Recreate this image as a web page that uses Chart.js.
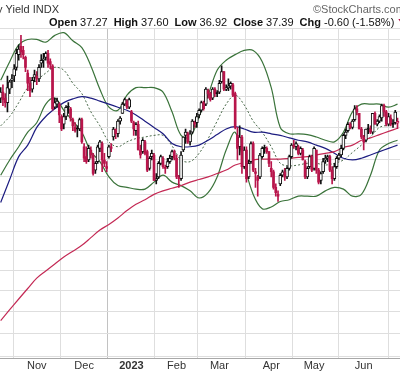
<!DOCTYPE html>
<html>
<head>
<meta charset="utf-8">
<title>10-Year Treasury Yield INDX</title>
<script src="https://cdn.jsdelivr.net/npm/chart.js@4.4.0/dist/chart.umd.min.js"></script>
<style>
  html, body { margin: 0; padding: 0; background: #fff; }
  canvas { display: block; }
</style>
</head>
<body>
<canvas id="tnx" width="400" height="376"></canvas>
<script>
// trading days counted from Nov 1 2022 (= 0); first candle is Oct 10 2022
var firstDay = -16;

var opens = [
  38.9, 39.3, 38.9, 38.6, 39.5, 40.1, 40.4, 41.0, 41.9, 42.5, 42.2, 41.7, 40.6, 39.9, 39.5, 40.3,
  40.4, 40.2, 41.3, 41.5, 41.7, 42.0, 41.4, 41.1, 38.3, 38.5, 38.5, 37.7, 37.2, 37.7, 38.3, 38.2, 37.5, 37.0, 36.9, 36.9, 37.5,
  35.8, 35.2, 35.0, 35.6, 35.3, 34.4, 34.9, 35.7, 36.0, 35.0, 34.6, 35.2, 35.8, 36.4, 36.9, 36.6, 37.4, 37.9, 38.5, 38.7, 38.3,
  38.0, 37.3, 36.8, 37.2, 35.6, 35.5, 36.1, 35.5, 34.5, 35.2, 35.3, 33.8, 34.0, 34.8, 35.1, 34.5, 34.6, 34.9, 35.2, 35.5,
  35.1, 33.9, 33.9, 35.6, 36.5, 36.6, 36.1, 36.7, 37.3, 37.3, 37.8, 38.1, 38.6, 38.5, 39.4, 39.2, 38.9, 39.5, 39.2,
  39.3, 40.0, 40.7, 39.5, 39.6, 39.7, 39.8, 39.2, 36.5, 35.8, 36.4, 34.6, 35.6, 34.0, 34.9, 36.0, 34.3, 34.0, 34.0, 35.2, 35.7, 35.7, 35.5,
  34.5, 34.3, 33.4, 33.0, 33.6, 34.1, 34.3, 34.0, 34.5, 35.2, 35.9, 35.8, 35.8, 35.4, 35.6, 34.9, 34.0, 34.6, 35.2,
  34.5, 35.6, 34.4, 33.8, 34.3, 35.0, 35.1, 35.2, 34.4, 33.9, 34.6, 35.1, 35.3, 35.7, 36.5, 36.8, 37.2, 37.0, 37.5, 38.2, 37.9, 36.9,
  36.4, 36.2, 36.9, 36.9, 36.7, 37.9, 37.2, 37.4, 37.6, 38.4, 38.0, 37.2, 37.6, 37.2, 37.3, 37.27
];
var highs = [
  39.6, 39.8, 39.2, 40.4, 40.1, 40.5, 41.2, 42.3, 42.6, 43.3, 42.5, 41.8, 40.8, 40.3, 40.3, 40.8,
  40.7, 41.2, 41.9, 42.0, 42.1, 42.2, 41.6, 41.2, 38.9, 38.9, 38.6, 37.8, 37.9, 38.4, 38.6, 38.3, 37.6, 37.3, 37.1, 37.6, 37.6,
  36.0, 35.8, 35.9, 35.8, 35.4, 34.9, 35.9, 36.2, 36.1, 35.4, 34.9, 35.9, 36.0, 37.0, 36.9, 37.5, 37.7, 38.6, 38.9, 38.8, 38.9,
  38.1, 37.4, 37.3, 37.4, 35.9, 36.3, 36.2, 35.6, 35.2, 35.6, 35.4, 34.2, 34.9, 35.3, 35.2, 34.7, 35.1, 35.3, 35.6, 35.6,
  35.3, 34.1, 35.5, 36.4, 36.9, 36.7, 36.8, 37.5, 37.4, 37.9, 38.2, 38.7, 38.7, 39.6, 39.5, 39.3, 39.6, 39.6, 39.4,
  40.1, 41.1, 40.7, 39.8, 40.2, 40.0, 39.9, 39.3, 37.0, 37.1, 36.5, 35.8, 35.8, 35.0, 36.1, 36.1, 34.5, 34.1, 35.4, 35.8, 35.9, 35.8, 35.5,
  34.9, 34.4, 33.6, 33.2, 34.2, 34.4, 34.5, 34.6, 35.3, 36.0, 36.2, 36.1, 35.9, 35.8, 35.7, 35.0, 34.6, 35.3, 35.3,
  35.8, 35.6, 34.5, 34.3, 35.1, 35.3, 35.3, 35.3, 34.6, 34.8, 35.2, 35.4, 35.9, 36.6, 36.9, 37.3, 37.3, 37.5, 38.4, 38.4, 37.9, 37.0,
  36.5, 36.9, 37.2, 37.1, 37.9, 38.0, 37.5, 37.8, 38.5, 38.5, 38.1, 37.9, 37.8, 37.5, 38.1, 37.60
];
var lows = [
  38.6, 38.4, 38.3, 38.0, 39.2, 39.6, 40.0, 40.8, 41.5, 41.7, 41.6, 40.7, 39.4, 39.0, 39.3, 40.0,
  39.8, 40.0, 41.0, 41.0, 41.5, 41.0, 40.9, 38.1, 38.2, 38.3, 37.3, 36.8, 36.9, 37.5, 37.9, 37.4, 36.8, 36.7, 36.4, 36.8, 36.0,
  34.9, 34.8, 34.9, 35.1, 34.1, 34.2, 34.8, 35.5, 34.3, 34.6, 34.3, 35.1, 35.5, 36.2, 36.3, 36.4, 37.2, 37.9, 38.4, 38.2, 38.2,
  37.3, 36.5, 36.5, 35.6, 35.1, 35.4, 35.3, 34.3, 34.4, 35.0, 33.8, 33.6, 33.9, 34.7, 34.5, 34.2, 34.5, 34.8, 35.0, 35.0,
  33.9, 33.4, 33.8, 35.5, 36.0, 36.0, 35.9, 36.6, 37.0, 37.0, 37.6, 38.0, 38.1, 38.4, 38.9, 38.7, 38.8, 39.0, 39.0,
  39.2, 39.9, 39.4, 39.4, 39.4, 39.5, 39.0, 36.9, 35.0, 35.3, 34.2, 34.5, 33.7, 33.9, 34.8, 34.3, 33.4, 32.9, 33.9, 35.1, 35.4, 35.4, 34.6,
  34.0, 33.3, 32.9, 32.6, 33.5, 34.0, 33.8, 33.9, 34.4, 35.1, 35.7, 35.6, 35.3, 35.3, 35.0, 33.9, 33.9, 34.5, 34.3,
  34.4, 34.2, 33.6, 33.6, 34.2, 34.8, 34.9, 34.3, 33.6, 33.8, 34.5, 35.0, 35.2, 35.6, 36.3, 36.7, 36.9, 36.9, 37.4, 37.8, 36.9, 36.3,
  35.6, 36.1, 36.6, 36.6, 36.6, 37.2, 37.1, 37.3, 37.4, 37.7, 37.1, 37.1, 37.1, 37.0, 37.2, 36.92
];
var closes = [
  39.3, 38.8, 38.6, 39.6, 40.0, 40.2, 40.9, 42.0, 42.3, 42.1, 41.9, 41.0, 39.9, 39.4, 40.1, 40.5,
  40.2, 41.0, 41.5, 41.6, 42.0, 41.3, 41.2, 38.2, 38.6, 38.7, 37.8, 36.9, 37.7, 38.3, 38.3, 37.6, 37.1, 36.8, 36.9, 37.5, 36.1,
  35.1, 34.9, 35.7, 35.3, 34.2, 34.8, 35.8, 36.1, 35.0, 34.8, 34.5, 35.8, 35.7, 36.9, 36.6, 37.4, 37.6, 38.5, 38.8, 38.3, 38.8,
  37.4, 36.9, 37.2, 35.6, 35.3, 36.2, 35.4, 34.4, 35.1, 35.4, 33.8, 33.9, 34.8, 35.2, 34.6, 34.5, 34.9, 35.1, 35.5, 35.1,
  34.0, 33.9, 35.3, 36.4, 36.7, 36.1, 36.6, 37.4, 37.2, 37.7, 38.1, 38.6, 38.2, 39.5, 39.2, 38.8, 39.5, 39.2, 39.2,
  39.9, 40.7, 39.5, 39.6, 39.7, 39.9, 39.1, 37.0, 35.7, 36.4, 34.6, 35.6, 33.9, 34.8, 36.0, 34.4, 34.2, 33.8, 35.3, 35.7, 35.7, 35.5, 34.8,
  34.3, 33.4, 33.1, 32.9, 34.1, 34.3, 34.0, 34.5, 35.2, 35.9, 35.8, 36.0, 35.4, 35.7, 35.0, 34.0, 34.5, 35.2, 34.4,
  35.7, 34.4, 33.7, 34.2, 34.9, 35.1, 35.2, 34.4, 33.9, 34.6, 35.1, 35.3, 35.7, 36.5, 36.7, 37.2, 37.0, 37.4, 38.2, 38.0, 36.9, 36.4,
  36.1, 36.9, 36.9, 36.7, 37.9, 37.2, 37.4, 37.7, 38.4, 38.0, 37.2, 37.7, 37.2, 37.2, 37.99, 37.39
];

var monthDays = [0, 21, 42, 62, 81, 104, 123, 145];
var monthLabels = ['Nov', 'Dec', '2023', 'Feb', 'Mar', 'Apr', 'May', 'Jun'];
var priceGrid = [25, 26, 27, 28, 29, 30, 31, 32, 33, 34, 35, 36, 37, 38, 39, 40, 41, 42, 43];

// overlays read every 4th trading day
var lineDays = [-16, -12, -8, -4, 0, 4, 8, 12, 16, 20, 24, 28, 32, 36, 40, 44, 48, 52, 56, 60, 64, 68, 72,
  76, 80, 84, 88, 92, 96, 100, 104, 108, 112, 116, 120, 124, 128, 132, 136, 140, 144, 148, 152, 156, 160];
var bbUpper = [40.1, 41.4, 42.6, 43.0, 43.0, 42.8, 43.3, 43.5, 42.9, 42.4, 41.1, 39.5, 38.3, 38.1, 39.1, 39.6,
  39.6, 39.6, 39.3, 38.0, 36.5, 36.4, 37.7, 39.1, 40.8, 41.5, 41.9, 42.2, 42.2, 41.4, 39.6, 37.0, 36.6, 36.6,
  36.55, 36.4, 36.2, 36.1, 36.7, 38.0, 38.5, 38.5, 38.5, 38.3, 38.5];
var bbMid = [37.1, 37.7, 38.6, 39.6, 40.1, 40.6, 41.0, 40.8, 39.9, 39.2, 38.0, 37.1, 36.1, 35.8, 36.1, 36.3,
  36.4, 36.5, 36.5, 35.85, 35.0, 34.9, 35.4, 36.3, 37.4, 38.5, 39.1, 38.45, 37.4, 36.7, 35.8, 34.8, 34.65, 34.7,
  34.8, 34.8, 34.7, 34.8, 35.0, 35.45, 35.9, 36.4, 37.0, 37.15, 37.3];
var bbLower = [34.1, 35.0, 35.8, 36.7, 37.3, 38.5, 38.9, 38.1, 37.4, 36.7, 35.5, 34.9, 34.0, 33.5, 33.4, 33.3,
  33.3, 33.7, 34.1, 33.7, 33.5, 33.2, 32.8, 33.1, 34.0, 35.6, 36.7, 34.7, 33.0, 32.2, 32.3, 32.6, 32.7, 32.9,
  32.9, 32.9, 33.2, 33.4, 33.3, 32.9, 33.0, 34.1, 35.6, 36.0, 36.2];
var ma50 = [32.55, 33.85, 35.2, 35.9, 37.0, 37.7, 38.2, 38.6, 38.85, 39.0, 38.9, 38.7, 38.5, 38.3, 38.1, 37.8,
  37.4, 37.0, 36.6, 36.0, 35.8, 35.8, 35.9, 36.2, 36.55, 36.9, 37.05, 36.9, 36.7, 36.7, 36.6, 36.5, 36.35, 36.2,
  36.1, 35.9, 35.7, 35.4, 35.1, 35.0, 35.1, 35.3, 35.5, 35.7, 35.9];
var ma200 = [26.6, 27.1, 27.6, 28.1, 28.6, 28.95, 29.3, 29.65, 29.95, 30.25, 30.65, 31.05, 31.35, 31.7, 32.1,
  32.45, 32.7, 33.0, 33.2, 33.35, 33.5, 33.7, 33.85, 34.0, 34.2, 34.4, 34.7, 34.85, 35.0, 35.05, 35.05, 35.05,
  35.1, 35.15, 35.2, 35.3, 35.4, 35.5, 35.75, 35.9, 36.2, 36.35, 36.55, 36.75, 36.95];

var RED = '#b8154b', BLACK = '#111111';
var FONT = '"Liberation Sans", Arial, sans-serif';

var wicks = [], wickColors = [];
var filled = [], filledColors = [];
var hollow = [], hollowColors = [];
for (var k = 0; k < closes.length; k++) {
  var day = firstDay + k;
  var prev = k > 0 ? closes[k - 1] : opens[k];
  var col = closes[k] < prev ? RED : BLACK;
  wicks.push({ x: day, y: [lows[k], highs[k]] });
  wickColors.push(col);
  var body = { x: day, y: [Math.min(opens[k], closes[k]), Math.max(opens[k], closes[k])] };
  if (closes[k] > opens[k]) { hollow.push(body); hollowColors.push(col); }
  else { filled.push(body); filledColors.push(col); }
}

function pts(values) {
  return values.map(function (v, i) { return { x: lineDays[i], y: v }; });
}
function overlay(values, color, width, dash, order) {
  return {
    type: 'line', data: pts(values), borderColor: color, borderWidth: width,
    borderDash: dash, pointRadius: 0, tension: 0.35, fill: false, order: order
  };
}

var last = closes.length - 1;
var chg = closes[last] - closes[last - 1];
var quote = [
  ['Open', opens[last].toFixed(2)],
  ['High', highs[last].toFixed(2)],
  ['Low', lows[last].toFixed(2)],
  ['Close', closes[last].toFixed(2)],
  ['Chg', chg.toFixed(2) + ' (' + (chg / closes[last - 1] * 100).toFixed(2) + '%)']
];

var header = {
  id: 'header',
  afterDraw: function (chart) {
    var c = chart.ctx;
    c.save();
    c.textBaseline = 'alphabetic';
    c.font = '11px ' + FONT;
    c.fillStyle = '#333';
    c.textAlign = 'right';
    c.fillText('10-Year Treasury Yield INDX', 59, 13);
    c.textAlign = 'left';
    c.fillStyle = '#666';
    c.fillText('\u00a9StockCharts.com', 313, 13);

    var x = 49;
    quote.forEach(function (q) {
      c.fillStyle = '#111';
      c.font = 'bold 11px ' + FONT;
      c.fillText(q[0], x, 26);
      x += c.measureText(q[0]).width + 3;
      c.font = '11px ' + FONT;
      c.fillText(q[1], x, 26);
      x += c.measureText(q[1]).width + 6;
    });
    c.fillStyle = RED;
    c.beginPath();
    c.moveTo(x - 2, 19);
    c.lineTo(x + 5, 19);
    c.lineTo(x + 1.5, 24);
    c.closePath();
    c.fill();
    c.restore();
  }
};

new Chart(document.getElementById('tnx'), {
  type: 'line',
  data: {
    datasets: [
      { type: 'bar', data: filled, backgroundColor: filledColors, borderWidth: 0,
        barThickness: 2, minBarLength: 1, grouped: false, order: 0 },
      { type: 'bar', data: hollow, backgroundColor: '#ffffff', borderColor: hollowColors, borderWidth: 1,
        borderSkipped: false, barThickness: 3, minBarLength: 1, grouped: false, order: 1 },
      { type: 'bar', data: wicks, backgroundColor: wickColors, borderWidth: 0,
        barThickness: 1, grouped: false, order: 2 },
      overlay(ma200, '#c42a55', 1.2, [], 3),
      overlay(ma50, '#1c1c80', 1.2, [], 4),
      overlay(bbMid, '#4a6a4a', 1, [2, 2], 5),
      overlay(bbUpper, '#3a733a', 1.2, [], 6),
      overlay(bbLower, '#3a733a', 1.2, [], 7)
    ]
  },
  options: {
    responsive: false,
    animation: false,
    devicePixelRatio: 1,
    events: [],
    layout: { padding: { top: 28, right: 0, bottom: 2, left: 0 } },
    plugins: { legend: { display: false }, tooltip: { enabled: false }, title: { display: false } },
    scales: {
      x: {
        type: 'linear',
        min: -16.3,
        max: 161.1,
        offset: false,
        afterBuildTicks: function (s) {
          s.ticks = monthDays.map(function (d) { return { value: d }; });
        },
        ticks: {
          autoSkip: false,
          maxRotation: 0,
          padding: 1,
          color: '#333',
          font: function (c) {
            return { family: FONT, size: 11, weight: c.index === 2 ? 'bold' : 'normal' };
          },
          callback: function (v) { return monthLabels[monthDays.indexOf(v)]; }
        },
        grid: {
          drawTicks: false,
          color: function (c) { return c.index === 2 ? '#c2c2c2' : '#dedede'; }
        },
        border: { display: true, color: '#a8a8a8' }
      },
      y: {
        type: 'logarithmic',
        min: 24.92,
        max: 43.85,
        afterBuildTicks: function (s) {
          s.ticks = priceGrid.concat([43.85]).map(function (v) { return { value: v }; });
        },
        ticks: { display: false },
        grid: { drawTicks: false, color: '#dedede' },
        border: { display: false }
      }
    }
  },
  plugins: [header]
});
</script>
</body>
</html>
